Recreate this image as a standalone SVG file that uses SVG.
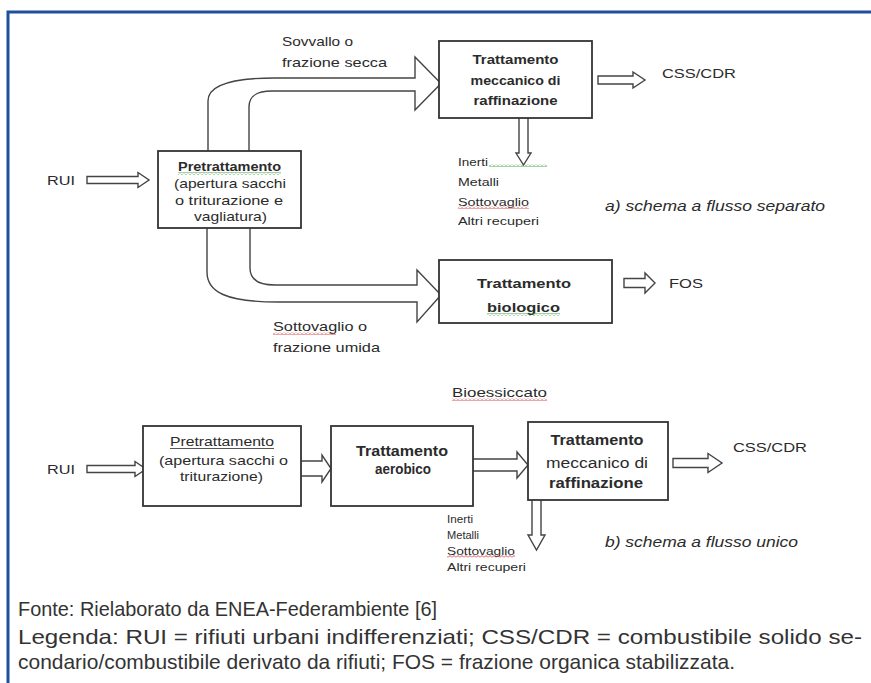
<svg xmlns="http://www.w3.org/2000/svg" width="871" height="683" viewBox="0 0 871 683">
<defs>
<style>
.box{fill:#fff;stroke:#333;stroke-width:1.8}
.arr{fill:#fff;stroke:#444;stroke-width:1.4;stroke-linejoin:miter}
.t{font-family:"Liberation Sans",Arial,sans-serif;fill:#2b2b2b}
.b{font-weight:bold}
.lbl{font-size:13px}
.sm{font-size:11px}
.it{font-style:italic;font-size:14px}
.foot{font-family:"Liberation Sans",Arial,sans-serif;fill:#333;font-size:21px}
</style>
<pattern id="wavyR" width="4" height="3" patternUnits="userSpaceOnUse"><path d="M0,2.5 L2,0.5 L4,2.5" fill="none" stroke="#d23a3a" stroke-width="0.9"/></pattern>
<pattern id="wavyG" width="4" height="3" patternUnits="userSpaceOnUse"><path d="M0,2.5 L2,0.5 L4,2.5" fill="none" stroke="#3a9a3a" stroke-width="0.9"/></pattern>
</defs>
<rect width="871" height="683" fill="#fff"/>
<g id="frame" fill="none" stroke="#1f4e9c" stroke-width="3">
<path d="M8,683 V12 H871"/>
</g>

<g id="connectors">
<!-- top diagram -->
<path class="arr" d="M87,176.5 H138 V172.5 L149,180 L138,187.5 V183.5 H87 Z"/>
<path class="arr" d="M208,151 V101 C208,87 228,78 275,78 H415 V57 L441,83.5 L415,110 V91 H272 C256,91 249,96 249,107 V151"/>
<path class="arr" d="M207,228 V272 C207,292 226,302 278,302 H417 V322 L441,295 L417,270 V285 H275 C259,285 250,280 250,268 V228"/>
<path class="arr" d="M598,76 H633 V72 L645,80 L633,88 V84 H598 Z"/>
<path class="arr" d="M519,118 V153 H516 L523.5,165 L531,153 H528 V118"/>
<path class="arr" d="M624,278.5 H645 V273 L655,283 L645,293 V287.5 H624 Z"/>
<!-- bottom diagram -->
<path class="arr" d="M87,465.5 H135 V461.5 L146,469 L135,476.5 V472.5 H87 Z"/>
<path class="arr" d="M301,461 H322 V455 L331,468.5 L322,482 V476 H301"/>
<path class="arr" d="M473,459 H517 V452 L528,465 L517,478 V471 H473"/>
<path class="arr" d="M673,458.5 H708 V453.5 L722,463 L708,472.5 V467.5 H673 Z"/>
<path class="arr" d="M532,500 V535 H528 L536.5,550 L545,535 H541 V500"/>
</g>

<g id="node-pretrattamento-a">
<rect class="box" x="158" y="151" width="143" height="77"/>
<text class="t lbl b" x="229.5" y="171" text-anchor="middle" textLength="103" lengthAdjust="spacingAndGlyphs">Pretrattamento</text>
<rect x="178" y="172" width="103" height="3" fill="url(#wavyG)"/>
<text class="t lbl" x="230" y="188" text-anchor="middle" textLength="112" lengthAdjust="spacingAndGlyphs">(apertura sacchi</text>
<text class="t lbl" x="229" y="204.5" text-anchor="middle" textLength="108" lengthAdjust="spacingAndGlyphs">o triturazione  e</text>
<text class="t lbl" x="230.5" y="221" text-anchor="middle" textLength="73" lengthAdjust="spacingAndGlyphs">vagliatura)</text>
</g>

<g id="node-tmr-a">
<rect class="box" x="439" y="41" width="153" height="77"/>
<text class="t b" font-size="13" x="515.5" y="64" text-anchor="middle" textLength="86" lengthAdjust="spacingAndGlyphs">Trattamento</text>
<text class="t b" font-size="13" x="515.5" y="85" text-anchor="middle" textLength="90" lengthAdjust="spacingAndGlyphs">meccanico di</text>
<text class="t b" font-size="13" x="515.5" y="105" text-anchor="middle" textLength="84" lengthAdjust="spacingAndGlyphs">raffinazione</text>
</g>

<g id="node-biologico">
<rect class="box" x="439" y="260" width="173" height="63"/>
<text class="t lbl b" x="524" y="288" text-anchor="middle" textLength="94" lengthAdjust="spacingAndGlyphs">Trattamento</text>
<text class="t lbl b" x="523.5" y="312" text-anchor="middle" textLength="73" lengthAdjust="spacingAndGlyphs">biologico</text>
<rect x="487" y="313" width="73" height="3" fill="url(#wavyG)"/>
</g>

<g id="labels-a">
<text class="t" font-size="13" x="47" y="185" textLength="28" lengthAdjust="spacingAndGlyphs">RUI</text>
<text class="t" font-size="13" x="282" y="46" textLength="71" lengthAdjust="spacingAndGlyphs">Sovvallo o</text>
<text class="t" font-size="13" x="282" y="67" textLength="105" lengthAdjust="spacingAndGlyphs">frazione secca</text>
<text class="t" font-size="13" x="273" y="331" textLength="94" lengthAdjust="spacingAndGlyphs">Sottovaglio o</text>
<rect x="273" y="332" width="63" height="3" fill="url(#wavyR)"/>
<text class="t" font-size="13" x="273" y="352" textLength="107" lengthAdjust="spacingAndGlyphs">frazione umida</text>
<text class="t" font-size="13" x="662" y="78" textLength="74" lengthAdjust="spacingAndGlyphs">CSS/CDR</text>
<text class="t" font-size="13" x="669" y="288" textLength="34" lengthAdjust="spacingAndGlyphs">FOS</text>
<text class="t sm" x="458" y="166" textLength="30" lengthAdjust="spacingAndGlyphs">Inerti</text>
<rect x="489" y="164" width="58" height="3" fill="url(#wavyG)"/>
<text class="t sm" x="458" y="186" textLength="41" lengthAdjust="spacingAndGlyphs">Metalli</text>
<text class="t sm" x="458" y="206" textLength="71" lengthAdjust="spacingAndGlyphs">Sottovaglio</text>
<rect x="458" y="206" width="71" height="3" fill="url(#wavyR)"/>
<text class="t sm" x="458" y="225" textLength="81" lengthAdjust="spacingAndGlyphs">Altri recuperi</text>
<text class="t it" x="605" y="211" textLength="220" lengthAdjust="spacingAndGlyphs">a) schema a flusso separato</text>
</g>

<g id="node-pretrattamento-b">
<rect class="box" x="143" y="426" width="158" height="80"/>
<text class="t lbl" x="222" y="446" text-anchor="middle" textLength="104" lengthAdjust="spacingAndGlyphs">Pretrattamento</text>
<line x1="170" y1="448.5" x2="274" y2="448.5" stroke="#555" stroke-width="1"/>
<text class="t lbl" x="223.5" y="465" text-anchor="middle" textLength="129" lengthAdjust="spacingAndGlyphs">(apertura sacchi o</text>
<text class="t lbl" x="221.5" y="481" text-anchor="middle" textLength="83" lengthAdjust="spacingAndGlyphs">triturazione)</text>
</g>

<g id="node-aerobico">
<rect class="box" x="331" y="426" width="142" height="80"/>
<text class="t b" font-size="14" x="402" y="456" text-anchor="middle" textLength="92" lengthAdjust="spacingAndGlyphs">Trattamento</text>
<text class="t b" font-size="14" x="403" y="474" text-anchor="middle" textLength="56" lengthAdjust="spacingAndGlyphs">aerobico</text>
</g>

<g id="node-tmr-b">
<rect class="box" x="528" y="422" width="140" height="78"/>
<text class="t b" font-size="14" x="597" y="445" text-anchor="middle" textLength="93" lengthAdjust="spacingAndGlyphs">Trattamento</text>
<text class="t" font-size="14" x="597" y="468" text-anchor="middle" textLength="102" lengthAdjust="spacingAndGlyphs">meccanico di</text>
<text class="t b" font-size="14" x="596" y="488" text-anchor="middle" textLength="94" lengthAdjust="spacingAndGlyphs">raffinazione</text>
</g>

<g id="labels-b">
<text class="t" font-size="13" x="452" y="397" textLength="95" lengthAdjust="spacingAndGlyphs">Bioessiccato</text>
<rect x="452" y="398" width="95" height="3" fill="url(#wavyR)"/>
<text class="t" font-size="13" x="47" y="474" textLength="28" lengthAdjust="spacingAndGlyphs">RUI</text>
<text class="t" font-size="13" x="733" y="452" textLength="74" lengthAdjust="spacingAndGlyphs">CSS/CDR</text>
<text class="t" font-size="10.5" x="447" y="523" textLength="26" lengthAdjust="spacingAndGlyphs">Inerti</text>
<text class="t" font-size="10.5" x="447" y="539" textLength="32" lengthAdjust="spacingAndGlyphs">Metalli</text>
<text class="t" font-size="10.5" x="447" y="555" textLength="68" lengthAdjust="spacingAndGlyphs">Sottovaglio</text>
<rect x="447" y="555" width="68" height="3" fill="url(#wavyR)"/>
<text class="t" font-size="10.5" x="447" y="571" textLength="79" lengthAdjust="spacingAndGlyphs">Altri recuperi</text>
<text class="t it" x="605" y="547" textLength="193" lengthAdjust="spacingAndGlyphs">b) schema a flusso unico</text>
</g>

<g id="footer">
<text class="foot" x="18" y="616" textLength="419" lengthAdjust="spacingAndGlyphs">Fonte: Rielaborato da ENEA-Federambiente [6]</text>
<text class="foot" x="18" y="644" textLength="844" lengthAdjust="spacingAndGlyphs">Legenda: RUI = rifiuti urbani indifferenziati; CSS/CDR = combustibile solido se-</text>
<text class="foot" x="18" y="669" textLength="717" lengthAdjust="spacingAndGlyphs">condario/combustibile derivato da rifiuti; FOS = frazione organica stabilizzata.</text>
</g>
</svg>
